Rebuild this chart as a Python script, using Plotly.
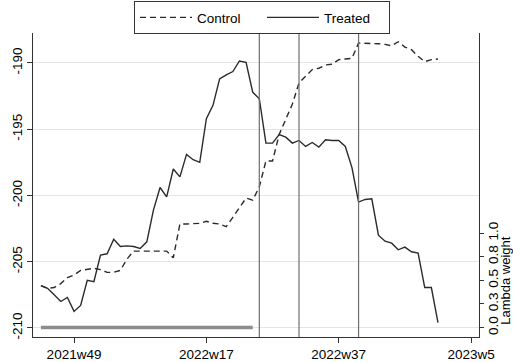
import plotly.graph_objects as go

def week_index(lbl):
    yr, wk = lbl.split("w")
    return (int(yr) - 2021) * 52 + int(wk) - 49

# weekly periods 2021w44 .. 2022w52
weeks = [f"2021w{w}" for w in range(44, 53)] + [f"2022w{w}" for w in range(1, 53)]

treated = [-206.8, -207.0, -207.5, -208.0, -207.7, -208.75, -208.3, -206.4, -206.5,
           -204.5, -204.4, -203.3, -203.85, -203.8, -203.85, -204.0, -203.5, -201.1,
           -199.4, -200.1, -198.0, -198.6, -196.9, -197.3, -197.5, -194.2, -193.2,
           -191.2, -190.9, -190.65, -189.85, -189.95, -192.2, -192.7, -196.05, -196.05,
           -195.4, -195.6, -196.05, -195.85, -196.3, -196.0, -196.35, -195.8, -195.85,
           -195.85, -196.3, -197.9, -200.5, -200.3, -200.25, -203.0, -203.45, -203.6,
           -204.1, -203.9, -204.25, -204.35, -206.95, -206.95, -209.6]

control = [-206.8, -207.0, -206.95, -206.65, -206.2, -206.0, -205.65, -205.6, -205.5,
           -205.6, -205.8, -205.8, -205.65, -204.8, -204.2, -204.2, -204.2, -204.2,
           -204.2, -204.2, -204.7, -202.15, -202.15, -202.15, -202.1, -201.95, -202.1,
           -202.15, -202.35, -201.65, -200.95, -200.2, -200.35, -199.35, -197.4, -197.4,
           -195.4, -194.25, -193.1, -191.5, -191.0, -190.5, -190.4, -190.15, -190.1,
           -189.75, -189.7, -189.65, -188.5, -188.5, -188.55, -188.55, -188.6, -188.7,
           -188.4, -188.8, -189.0, -189.5, -189.9, -189.75, -189.7]

# lambda weights for pre-treatment weeks 2021w44 .. 2022w24
lambda_weeks = weeks[:33]
lambda_w = [0.0, 0.0, 0.0, 0.0, 0.0, 0.0, 0.0, 0.0, 0.0, 0.0, 0.0,
            0.0, 0.0, 0.0, 0.0, 0.0, 0.0, 0.0, 0.0, 0.0, 0.0, 0.0,
            0.0, 0.0, 0.0, 0.0, 0.0, 0.0, 0.0, 0.0, 0.0, 0.0, 0.0]

treat_weeks = ["2022w25", "2022w31", "2022w40"]
tick_labels = ["2021w49", "2022w17", "2022w37", "2023w5"]
y_ticks = [-210, -205, -200, -195, -190]
lambda_ticks = [0, 0.25, 0.5, 0.75, 1.0]
lambda_tick_text = ["0.0", "0.3", "0.5", "0.8", "1.0"]

x = [week_index(w) for w in weeks]
xl = [week_index(w) for w in lambda_weeks]

FONT = "Liberation Sans, Arial, sans-serif"

fig = go.Figure()
fig.add_trace(go.Scatter(x=x, y=control, mode="lines", name="Control",
                         line=dict(color="#2b2b2b", width=1.4, dash="6px,4px")))
fig.add_trace(go.Scatter(x=x, y=treated, mode="lines", name="Treated",
                         line=dict(color="#2b2b2b", width=1.4)))
fig.add_trace(go.Scatter(x=xl, y=lambda_w, mode="lines", yaxis="y2", showlegend=False,
                         line=dict(color="#8c8c8c", width=3.5)))

for tw in treat_weeks:
    fig.add_shape(type="line", xref="x", yref="paper", x0=week_index(tw), x1=week_index(tw),
                  y0=0, y1=1, line=dict(color="#6e6e6e", width=1.2))

# right axis title, centred on the lambda tick range
fig.add_annotation(text="Lambda weight", xref="paper", yref="y2",
                   x=(505.5 - 33) / 446, y=0.5, textangle=-90, showarrow=False,
                   xanchor="center", yanchor="middle", font=dict(size=13),
                   borderpad=0)

fig.update_layout(
    width=513, height=362,
    margin=dict(l=33, r=34, t=33, b=25, autoexpand=False),
    paper_bgcolor="white", plot_bgcolor="white",
    font=dict(family=FONT, size=13.5, color="black"),
    showlegend=True,
    legend=dict(orientation="h", x=(134 - 33) / 446, xanchor="left", y=1.105, yanchor="top",
                bordercolor="#333333", borderwidth=1, bgcolor="white",
                font=dict(size=13.5), itemwidth=52, entrywidth=60,
                traceorder="normal"),
    xaxis=dict(range=[-6.2, 61.2], tickvals=[week_index(t) for t in tick_labels],
               ticktext=tick_labels, ticks="outside", ticklen=5, tickcolor="#333",
               showline=True, linecolor="#333", linewidth=1, showgrid=False,
               zeroline=False, automargin=False),
    yaxis=dict(range=[-210.68, -187.74], tickvals=y_ticks,
               ticktext=[str(v) for v in y_ticks], tickangle=-90,
               ticks="outside", ticklen=5, tickcolor="#333",
               showline=True, linecolor="#333", linewidth=1, automargin=False,
               showgrid=True, gridcolor="#e4e4e4", gridwidth=1, zeroline=False),
    yaxis2=dict(overlaying="y", side="right", range=[-0.1, 3.116],
                tickvals=lambda_ticks, ticktext=lambda_tick_text, tickangle=-90,
                ticks="outside", ticklen=4, tickcolor="#333", ticklabelstandoff=-2,
                showline=True, linecolor="#333", linewidth=1, automargin=False,
                showgrid=False, zeroline=False),
)

fig.write_html("out.html")
